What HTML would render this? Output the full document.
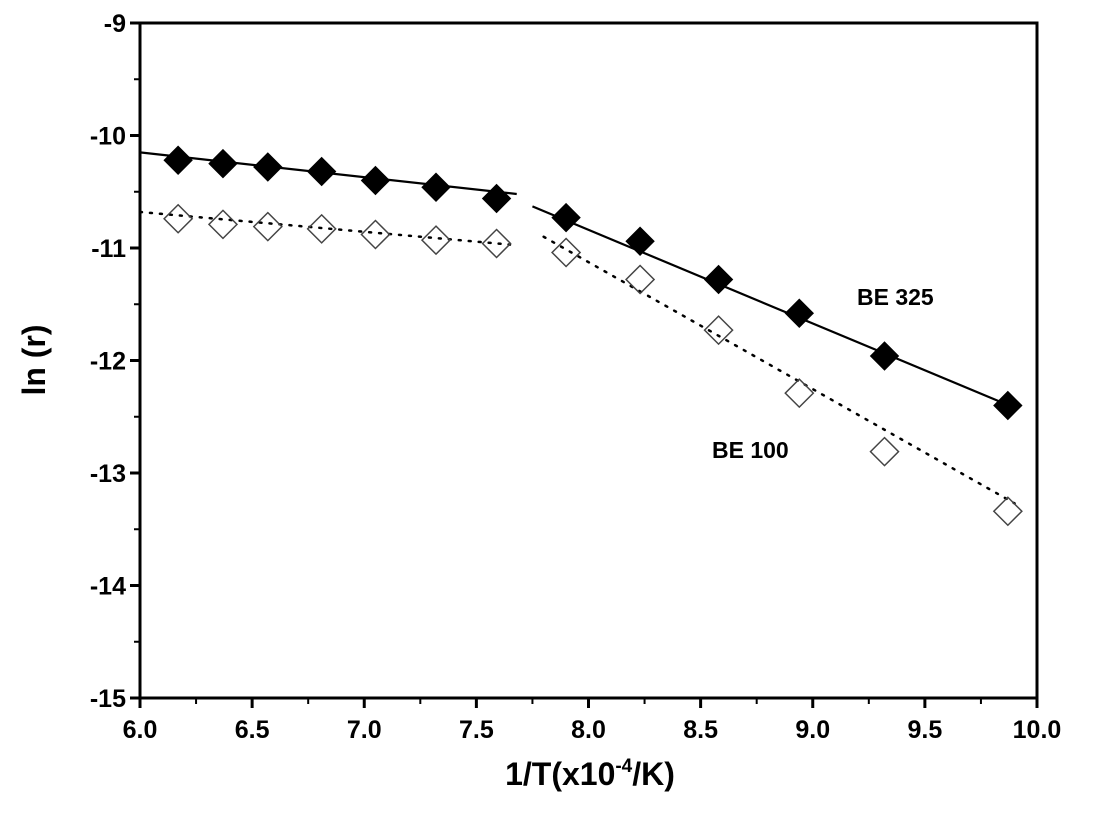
<!DOCTYPE html>
<html><head><meta charset="utf-8"><style>
html,body{margin:0;padding:0;background:#fff;}
svg{display:block;font-family:"Liberation Sans",Arial,sans-serif;font-weight:bold;}
</style></head><body>
<svg id="chart" width="1102" height="833"></svg>
<script>
const xTicks=[6.0,6.5,7.0,7.5,8.0,8.5,9.0,9.5,10.0];
const xTickLabels=["6.0","6.5","7.0","7.5","8.0","8.5","9.0","9.5","10.0"];
const yTicks=[-9,-10,-11,-12,-13,-14,-15];
const yTickLabels=["-9","-10","-11","-12","-13","-14","-15"];
const xVals=[6.17,6.37,6.57,6.81,7.05,7.32,7.59,7.90,8.23,8.58,8.94,9.32,9.87];
const be325=[-10.22,-10.25,-10.28,-10.32,-10.40,-10.46,-10.56,-10.73,-10.94,-11.28,-11.58,-11.96,-12.40];
const be100=[-10.74,-10.79,-10.81,-10.83,-10.88,-10.93,-10.96,-11.04,-11.28,-11.73,-12.29,-12.81,-13.34];
const fit325=[[6.0,-10.15,7.68,-10.52],[7.75,-10.63,9.9,-12.42]];
const fit100=[[6.0,-10.68,7.65,-10.97],[7.8,-10.9,9.9,-13.27]];
const X0=140,X1=1037,Y0=23,Y1=698;
const sx=v=>X0+(v-6)*(X1-X0)/4;
const sy=v=>Y0+(-9-v)*(Y1-Y0)/6;
const svg=document.getElementById('chart');
const NS='http://www.w3.org/2000/svg';
function mk(t,a,p){const e=document.createElementNS(NS,t);for(const k in a)e.setAttribute(k,a[k]);(p||svg).appendChild(e);return e;}
let e;
e=mk('rect',{x:X0,y:Y0,width:X1-X0,height:Y1-Y0,fill:'none',stroke:'#000','stroke-width':3});


xTicks.forEach((v,i)=>{
 let t=mk('line',{x1:sx(v),x2:sx(v),y1:Y1,y2:Y1+10,stroke:'#000','stroke-width':3});
 
 
 if(i<xTicks.length-1){let m=mk('line',{x1:sx(v+0.25),x2:sx(v+0.25),y1:Y1,y2:Y1+6,stroke:'#000','stroke-width':2});
 
 }
 let l=mk('text',{x:sx(v),y:Y1+40,'text-anchor':'middle','font-size':25});
 l.textContent=xTickLabels[i];
 
 
});
yTicks.forEach((v,i)=>{
 let t=mk('line',{x1:X0-10,x2:X0,y1:sy(v),y2:sy(v),stroke:'#000','stroke-width':3});
 
 
 if(i<yTicks.length-1){let m=mk('line',{x1:X0-6,x2:X0,y1:sy(v-0.5),y2:sy(v-0.5),stroke:'#000','stroke-width':2});
 
 }
 let l=mk('text',{x:X0-14,y:sy(v)+9,'text-anchor':'end','font-size':25});
 l.textContent=yTickLabels[i];
 
 
});
fit325.forEach(s=>{let l=mk('line',{x1:sx(s[0]),y1:sy(s[1]),x2:sx(s[2]),y2:sy(s[3]),stroke:'#000','stroke-width':2.2});
 
 });
fit100.forEach(s=>{let l=mk('line',{x1:sx(s[0]),y1:sy(s[1]),x2:sx(s[2]),y2:sy(s[3]),stroke:'#000','stroke-width':2.5,'stroke-dasharray':'2 8','stroke-linecap':'round'});
 
 });
const d=14;
function dia(x,y){return `${x},${y-d} ${x+d},${y} ${x},${y+d} ${x-d},${y}`;}
xVals.forEach((v,i)=>{
 let p=mk('polygon',{points:dia(sx(v),sy(be100[i])),fill:'none',stroke:'#444','stroke-width':1.5});
 
 
 let q=mk('polygon',{points:dia(sx(v),sy(be325[i])),fill:'#000',stroke:'#000','stroke-width':1});
 
 
});
e=mk('text',{x:857,y:305,'font-size':23});e.textContent='BE 325';


e=mk('text',{x:712,y:458,'font-size':23});e.textContent='BE 100';


e=mk('text',{x:0,y:0,'font-size':32,'text-anchor':'middle',transform:'translate(45,360) rotate(-90)'});e.textContent='ln (r)';


e=mk('text',{x:590,y:785,'font-size':32,'text-anchor':'middle'});
e.innerHTML='1/T(x10<tspan dy="-13" font-size="19">-4</tspan><tspan dy="13">/K)</tspan>';


</script>
</body></html>
